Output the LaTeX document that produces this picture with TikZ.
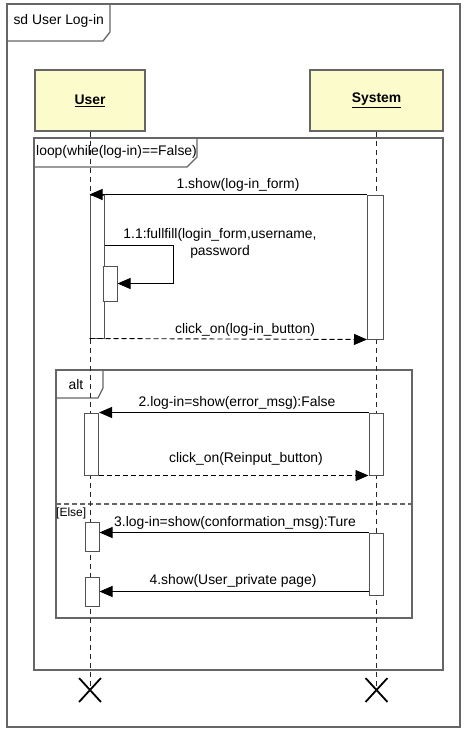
\documentclass[tikz,border=0pt]{standalone}
\usepackage{fontspec}
\setmainfont{Liberation Sans}
\usepackage{xcolor}
\usepackage{tikz}
\usetikzlibrary{arrows.meta,shapes.misc}
\definecolor{framegray}{HTML}{666666}
\definecolor{boxfill}{HTML}{FCFBCB}

\begin{document}
\begin{tikzpicture}[x=1pt,y=-1pt,font=\fontsize{13.9}{16.5}\selectfont,
  frm/.style={draw=framegray,line width=1.3pt},
  obj/.style={draw=framegray,line width=1.3pt,fill=boxfill,minimum width=#1,minimum height=61pt,font=\fontsize{13.9}{16.5}\selectfont\bfseries},
  bar/.style={draw=framegray!80!black,line width=1pt,fill=white,minimum width=14pt,minimum height=#1,inner sep=0pt},
  life/.style={draw=black!85,line width=0.9pt,dash pattern=on 5pt off 4pt},
  msg/.style={-{Triangle[length=13pt,width=11pt]},line width=0.9pt},
  ret/.style={msg,dash pattern=on 5pt off 3pt},
  kill/.style={cross out,draw=black,line width=1.8pt,minimum width=20pt,minimum height=22pt,inner sep=0pt}]
\useasboundingbox (0,0) rectangle (466,737);
\draw[frm] (7,4) rectangle (460,727);
  \draw[frm] (7,41) -- (103,41) -- (110,32) -- (110,4);
  \node[anchor=west] (sd) at (10,21) {sd User Log-in};
  \draw[frm] (34,138) rectangle (443,670);
  \draw[frm] (34,167) -- (187,167) -- (197,157) -- (197,138);
  \node[anchor=west,inner sep=2pt] (lp) at (34,152) {loop(while(log-in)==False)};
  \draw[frm] (56,370) rectangle (412,618);
  \draw[frm] (56,398) -- (98,398) -- (103,388) -- (103,370);
  \node (alt) at (76,385) {alt};
  \draw[frm,dash pattern=on 5pt off 3pt] (56,504) -- (412,504);
  \node[anchor=west,inner sep=1pt,font=\fontsize{12}{13}\selectfont] (else) at (55,513) {[Else]};
  \node[obj=110pt] (user) at (90,100.5) {\underline{User}};
  \node[obj=133pt] (system) at (376.5,100.5) {\underline{System}};
  \node[kill] (xu) at (90,690) {};
  \node[kill] (xs) at (376.5,690) {};
  \draw[life] (user.south) -- (xu.center);
  \draw[life] (system.south) -- (xs.center);
  \node[bar=143pt] (u1) at (97,266.5) {};
  \node[bar=144pt,minimum width=16pt] (s1) at (375.5,267) {};
  \node[bar=35pt] (u11) at (110,283.5) {};
  \node[bar=62pt] (u2) at (91.5,444) {};
  \node[bar=62pt] (s2) at (376,444) {};
  \node[bar=29pt] (u3) at (92,536.5) {};
  \node[bar=62pt] (s3) at (376,564) {};
  \node[bar=29pt] (u4) at (92,591.5) {};
  \draw[msg] (s1.north west) -- (u1.north west);
  \node (l1) at (238,185) {1.show(log-in\_form)};
  \draw[msg] (u1.east |- 0,245) -- ++(69,0) |- (u11.east);
  \node[align=center] (l11) at (220,243.5) {1.1:fullfill(login\_form,username,\\password};
  \draw[ret] (u1.south west) -- (s1.south west);
  \node (l1b) at (245,330) {click\_on(log-in\_button)};
  \draw[msg] (s2.north west) -- (u2.north east);
  \node (l2) at (237,403) {2.log-in=show(error\_msg):False};
  \draw[ret] (u2.south east) -- (s2.south west);
  \node (l2b) at (246,459) {click\_on(Reinput\_button)};
  \draw[msg] (s3.north west) -- (s3.north west -| u3.east);
  \node (l3) at (235,523) {3.log-in=show(conformation\_msg):Ture};
  \draw[msg] (u4.east -| s3.west) -- (u4.east);
  \node (l4) at (233,581) {4.show(User\_private page)};
\end{tikzpicture}
\end{document}
